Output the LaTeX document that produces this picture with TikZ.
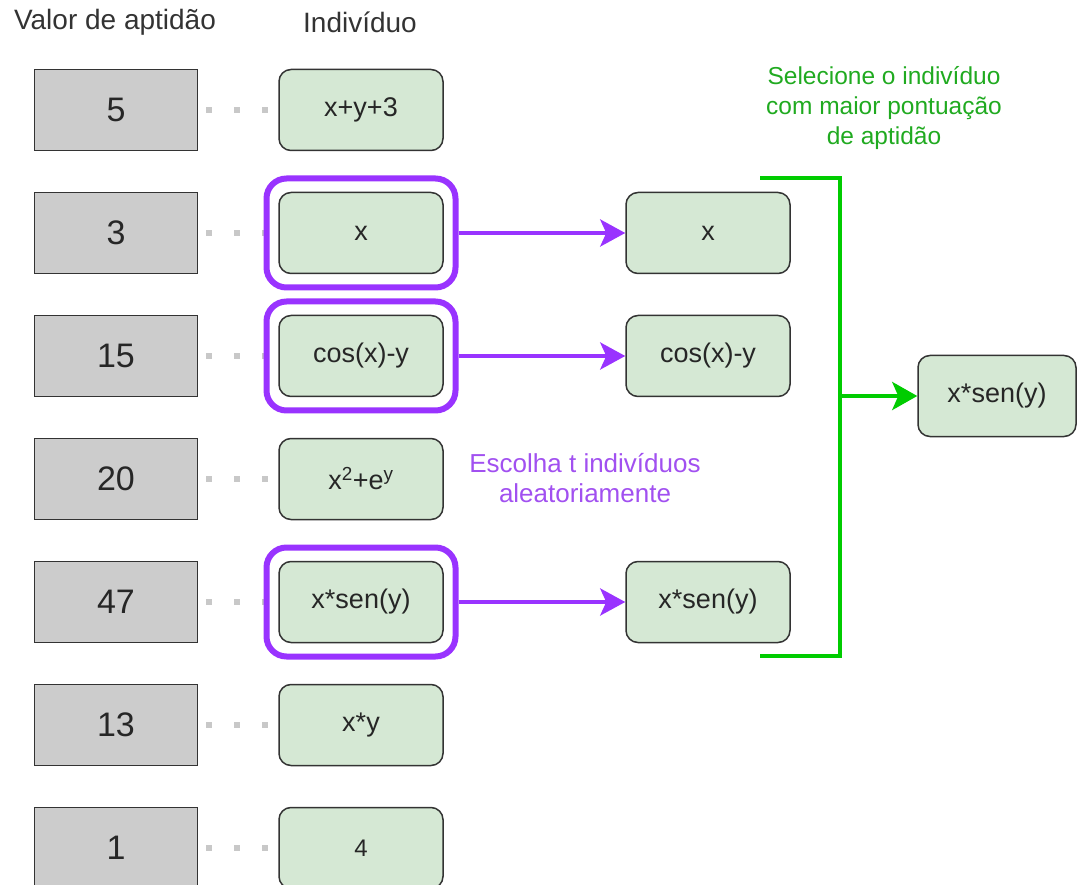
\documentclass[tikz,border=0pt]{standalone}
\usepackage{fontspec}
\setmainfont{Liberation Sans}
\usetikzlibrary{arrows.meta}
\definecolor{boxgray}{HTML}{CCCCCC}
\definecolor{boxgreen}{HTML}{D5E8D4}
\definecolor{edge}{HTML}{333333}
\definecolor{pick}{HTML}{9933FF}
\definecolor{picktext}{HTML}{A150F0}
\definecolor{best}{HTML}{00CC00}
\definecolor{besttext}{HTML}{20AA20}
\definecolor{dotgray}{HTML}{C8C8C8}
\begin{document}
\begin{tikzpicture}[x=1pt,y=-1pt,
  fitness/.style={draw=edge, line width=1.5pt, fill=boxgray, minimum width=163pt,
    minimum height=81pt, inner sep=0pt, font=\fontsize{34}{40}\selectfont, text=black!85},
  indiv/.style={draw=edge, line width=1.5pt, fill=boxgreen, rounded corners=12pt,
    minimum width=164pt, minimum height=81pt, inner sep=0pt,
    font=\fontsize{27}{32}\selectfont, text=black!85},
  chosen/.style={draw=pick, line width=6pt, fill=white, rounded corners=20pt,
    minimum width=189pt, minimum height=109pt, inner sep=0pt},
  link/.style={dotgray, line width=6pt, dash pattern=on 6pt off 22pt, dash phase=20pt},
  pickarrow/.style={pick, line width=4pt, -{Stealth[length=25pt, width=27pt, inset=6pt]}},
  bestline/.style={best, line width=4pt},
  bestarrow/.style={best, line width=4pt, -{Stealth[length=25pt, width=28pt, inset=6pt]}},
  heading/.style={font=\fontsize{28}{33}\selectfont, text=edge},
]
\useasboundingbox (0,0) rectangle (1077,885);

% column headings
\node[heading] (hval) at (115,22) {Valor de aptidão};
\node[heading] (hind) at (360,22) {Indivíduo};

% fitness values
\node[fitness] (v1) at (116,110) {5};
\node[fitness] (v2) at (116,233) {3};
\node[fitness] (v3) at (116,356) {15};
\node[fitness] (v4) at (116,479) {20};
\node[fitness] (v5) at (116,602) {47};
\node[fitness] (v6) at (116,725) {13};
\node[fitness] (v7) at (116,848) {1};

% dotted links between value and individual
\coordinate (e1) at (279,110);
\coordinate (e2) at (279,233);
\coordinate (e3) at (279,356);
\coordinate (e4) at (279,479);
\coordinate (e5) at (279,602);
\coordinate (e6) at (279,725);
\coordinate (e7) at (279,848);
\foreach \k in {1,...,7}{
  \draw[link] (v\k.east) -- (e\k);
}

% randomly chosen individuals
\node[chosen] (c2) at (361,233) {};
\node[chosen] (c3) at (361,356) {};
\node[chosen] (c5) at (361,602) {};

% population
\node[indiv] (i1) at (361,110) {x+y+3};
\node[indiv] (i2) at (361,233) {x};
\node[indiv] (i3) at (361,356) {cos(x)-y};
\node[indiv] (i4) at (361,479) {x\textsuperscript{2}+e\textsuperscript{y}};
\node[indiv] (i5) at (361,602) {x*sen(y)};
\node[indiv] (i6) at (361,725) {x*y};
\node[indiv, font=\fontsize{24}{28}\selectfont] (i7) at (361,848) {4};

% tournament
\node[indiv] (t1) at (708,233) {x};
\node[indiv] (t2) at (708,356) {cos(x)-y};
\node[indiv] (t3) at (708,602) {x*sen(y)};

\draw[pickarrow] (c2.east) -- (t1.west);
\draw[pickarrow] (c3.east) -- (t2.west);
\draw[pickarrow] (c5.east) -- (t3.west);

\node[font=\fontsize{26}{30}\selectfont, text=picktext, align=center] (lpick) at (585,478)
  {Escolha t indivíduos\\aleatoriamente};

% winner
\node[indiv, minimum width=158pt] (w) at (997,396) {x*sen(y)};

\coordinate (b1) at (760,178);
\coordinate (b2) at (840,178);
\coordinate (b3) at (840,656);
\coordinate (b4) at (760,656);
\coordinate (bm) at (840,396);
\draw[bestline] (b1) -- (b2) -- (b3) -- (b4);
\draw[bestarrow] (bm) -- (w.west);

\node[font=\fontsize{24.5}{30}\selectfont, text=besttext, align=center] (lbest) at (884,108)
  {Selecione o indivíduo\\com maior pontuação\\de aptidão};
\end{tikzpicture}
\end{document}
